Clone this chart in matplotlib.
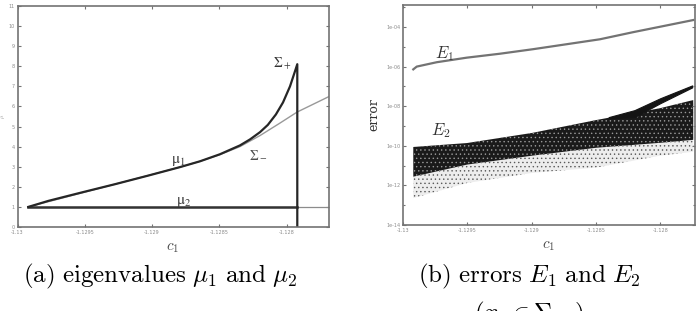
import numpy as np
import matplotlib
matplotlib.use("Agg")
import matplotlib.pyplot as plt

plt.rcParams["mathtext.fontset"] = "cm"
plt.rcParams["hatch.linewidth"] = 0.5

# (a) eigenvalues
mu1_c = [-1.129920, -1.129771, -1.129523, -1.129276, -1.129028, -1.128793,
         -1.128644, -1.128496, -1.128347, -1.128272, -1.128198, -1.128140,
         -1.128080, -1.128027, -1.127975, -1.127938, -1.127921, -1.127921]
mu1_v = [1.0, 1.3, 1.72, 2.13, 2.56, 2.98, 3.27, 3.62, 4.06, 4.36, 4.72, 5.08,
         5.6, 6.2, 7.0, 7.75, 8.1, 0.0]
sig_c = [-1.129920, -1.129276, -1.128793, -1.128644, -1.128496, -1.128347,
         -1.128198, -1.128050, -1.127922, -1.127689]
sig_v = [1.0, 2.13, 2.98, 3.27, 3.6, 4.0, 4.55, 5.17, 5.72, 6.48]
mu2_c = [-1.129920, -1.127921]
mu2_v = [1.0, 1.0]
mu2_tail_c = [-1.129920, -1.127689]
mu2_tail_v = [1.0, 1.0]

# (b) errors (log10 values)
e1_c = [-1.129920, -1.129893, -1.129738, -1.129505, -1.129246, -1.128987,
        -1.128727, -1.128468, -1.128209, -1.127949, -1.127743]
e1_log = [-6.14, -6.00, -5.78, -5.55, -5.35, -5.12, -4.87, -4.62, -4.26,
          -3.92, -3.65]
e2_c = [-1.129920, -1.129502, -1.128996, -1.128498, -1.128000, -1.127743]
e2_top = [-10.06, -9.86, -9.35, -8.70, -8.10, -7.69]
e2_core_low = [-11.56, -10.95, -10.50, -10.10, -9.85, -9.70]
e2_sparse_low = [-12.64, -11.88, -11.37, -11.10, -10.50, -10.30]
streak_c = [-1.128400, -1.128200, -1.128000, -1.127751]
streak_top = [-8.55, -8.20, -7.60, -6.95]
streak_low = [-8.60, -8.55, -7.85, -7.05]

xticks = [-1.13, -1.1295, -1.129, -1.1285, -1.128]
xtick_labels = ["-1.13", "-1.1295", "-1.129", "-1.1285", "-1.128"]
ylog_ticks = [1e-14, 1e-12, 1e-10, 1e-08, 1e-06, 1e-04]
ylog_labels = ["1e-14", "1e-12", "1e-10", "1e-08", "1e-06", "1e-04"]

frame = "0.45"
tick_col = "0.55"

fig = plt.figure(figsize=(7.0, 3.11), dpi=100)


def style(ax):
    for s in ax.spines.values():
        s.set_color(frame)
        s.set_linewidth(1.2)
    ax.tick_params(which="both", direction="in", top=True, right=True,
                   colors=frame, labelcolor=tick_col, labelsize=3.5,
                   length=2.5, width=0.8, pad=2)
    ax.tick_params(which="minor", length=1.5)


# ---- panel (a)
ax1 = fig.add_axes([0.025, 0.270, 0.4443, 0.711])
ax1.plot(mu2_tail_c, mu2_tail_v, color="0.55", lw=0.9)
ax1.plot(sig_c, sig_v, color="0.6", lw=1.0)
ax1.plot(mu2_c, mu2_v, color="0.2", lw=1.8)
ax1.plot(mu1_c, mu1_v, color="0.15", lw=1.6, solid_joinstyle="round")
ax1.set_xlim(-1.13, -1.127689)
ax1.set_ylim(0, 11)
ax1.set_xticks(xticks)
ax1.set_xticklabels(xtick_labels)
ax1.set_yticks(range(12))
style(ax1)
ax1.set_xlabel(r"$c_1$", fontsize=11, color="0.3", labelpad=4)
ax1.set_ylabel(r"$\mu$", fontsize=4, color="0.5", labelpad=1)
ax1.text(-1.12886, 3.2, r"$\mathrm{\mu}_1$", fontsize=11, color="0.25",
         math_fontfamily="stix")
ax1.text(-1.12882, 1.15, r"$\mathrm{\mu}_2$", fontsize=11, color="0.25",
         math_fontfamily="stix")
ax1.text(-1.12828, 3.4, r"$\Sigma_-$", fontsize=10, color="0.3",
         math_fontfamily="stix")
ax1.text(-1.12810, 7.95, r"$\Sigma_+$", fontsize=10, color="0.2",
         math_fontfamily="stix")

# ---- panel (b)
ax2 = fig.add_axes([0.5757, 0.2765, 0.417, 0.7074])
ax2.set_yscale("log")
lo_sp = 10.0 ** np.array(e2_sparse_low)
lo_core = 10.0 ** np.array(e2_core_low)
top = 10.0 ** np.array(e2_top)
ax2.fill_between(e2_c, lo_sp, lo_core, facecolor="0.93", edgecolor="0.35",
                 hatch="....", linewidth=0)
ax2.fill_between(e2_c, lo_core, top, facecolor="0.1", edgecolor="0.6",
                 hatch="....", linewidth=0)
ax2.fill_between(streak_c, 10.0 ** np.array(streak_low),
                 10.0 ** np.array(streak_top), facecolor="0.08",
                 edgecolor="0.08", linewidth=0.8)
ax2.plot(e1_c, 10.0 ** np.array(e1_log), color="0.45", lw=1.6)
ax2.set_xlim(-1.13, -1.12773)
ax2.set_ylim(1e-14, 10 ** -2.89)
ax2.set_xticks(xticks)
ax2.set_xticklabels(xtick_labels)
ax2.set_yticks(ylog_ticks)
ax2.set_yticklabels(ylog_labels)
ax2.set_yticks([1e-13, 1e-11, 1e-09, 1e-07, 1e-05, 1e-03], minor=True)
ax2.yaxis.set_minor_formatter(plt.NullFormatter())
style(ax2)
ax2.set_xlabel(r"$c_1$", fontsize=11, color="0.3", labelpad=4)
ax2.set_ylabel("error", fontsize=9, color="0.2", family="DejaVu Serif",
               labelpad=4)
ax2.text(-1.12975, 2.7e-6, r"$E_1$", fontsize=12, color="0.2")
ax2.text(-1.12978, 3.5e-10, r"$E_2$", fontsize=12, color="0.2")

# captions
fig.text(0.229, 0.112, r"$\mathrm{(a)\ eigenvalues\ }\mu_1\mathrm{\ and\ }\mu_2$",
         ha="center", va="center", fontsize=18)
fig.text(0.756, 0.112, r"$\mathrm{(b)\ errors\ }E_1\mathrm{\ and\ }E_2$",
         ha="center", va="center", fontsize=18)
fig.text(0.756, -0.012, r"$(x_0\in\Sigma_+)$", ha="center", va="center",
         fontsize=18)

fig.savefig("out.png", dpi=100)
